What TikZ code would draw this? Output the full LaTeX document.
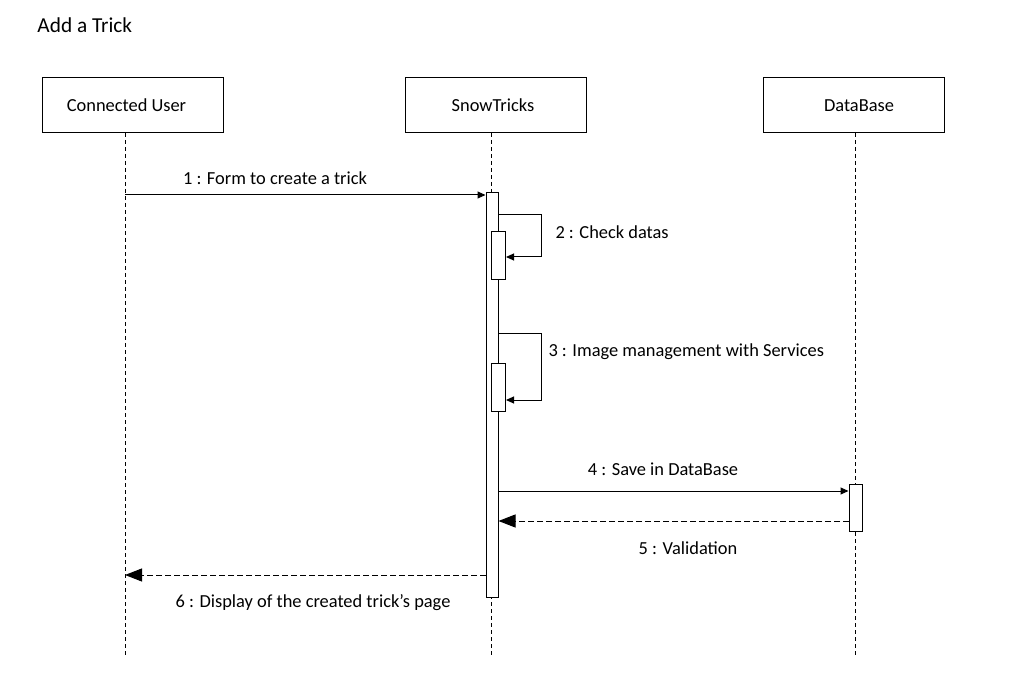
\documentclass[tikz,border=0pt]{standalone}
\usepackage{fontspec}
\setmainfont{Carlito}
\usetikzlibrary{arrows.meta}
\begin{document}
\begin{tikzpicture}[x=1pt,y=-1pt,line width=1pt,
  lbl/.style={font=\fontsize{18.4}{20}\selectfont,inner sep=0pt},
  headbox/.style={draw,fill=white,minimum width=181pt,minimum height=55pt,inner sep=0pt},
  actbox/.style={draw,fill=white,inner sep=0pt},
  lifeline/.style={dash pattern=on 4pt off 3pt},
  syncmsg/.style={-{Triangle[length=8pt,width=7pt]}},
  retmsg/.style={dash pattern=on 6pt off 3pt,-{Triangle[length=17pt,width=13pt]}}]
\useasboundingbox[fill=white] (0,0) rectangle (1021,687);
\node[anchor=west,inner sep=0pt,font=\fontsize{21.3}{24}\selectfont] (title) at (37,25) {Add a Trick};
% lifelines
\coordinate (l1top) at (125,133); \coordinate (l1bot) at (125,655);
\coordinate (l2top) at (491,133); \coordinate (l2bot) at (491,655);
\coordinate (l3top) at (855,133); \coordinate (l3bot) at (855,655);
\draw[lifeline] (l1top) -- (l1bot);
\draw[lifeline] (l2top) -- (l2bot);
\draw[lifeline] (l3top) -- (l3bot);
% heads
\node[headbox] (user) at (132.5,105.5) {};
\node[headbox] (snow) at (495.5,105.5) {};
\node[headbox] (db) at (853.5,105.5) {};
\node[lbl] (userlbl) at ([xshift=-6pt]user.center) {Connected User};
\node[lbl] (snowlbl) at ([xshift=-2.5pt]snow.center) {SnowTricks};
\node[lbl] (dblbl) at ([xshift=5.5pt]db.center) {DataBase};
% activations
\node[actbox,minimum width=12pt,minimum height=404pt] (act) at (492,395) {};
\node[actbox,minimum width=14pt,minimum height=48pt] (a2) at (498.5,256) {};
\node[actbox,minimum width=14pt,minimum height=48pt] (a3) at (498.5,387) {};
\node[actbox,minimum width=13pt,minimum height=47pt] (adb) at (855.5,507.5) {};
% message 1
\coordinate (m1s) at (125,195);
\draw[syncmsg] (m1s) -- (m1s -| act.west);
\node[lbl] (t1) at (275,178) {1 : Form to create a trick};
% message 2
\coordinate (m2s) at (498,215);
\draw[syncmsg] (m2s) -- ++(43.5,0) |- ([yshift=-1pt]a2.east);
\node[lbl,anchor=west] (t2) at (555,232) {2 : Check datas};
% message 3
\coordinate (m3s) at (498,334);
\draw[syncmsg] (m3s) -- ++(43.5,0) |- ([yshift=-13pt]a3.east);
\node[lbl,anchor=west] (t3) at (548,351.5) {3 : Image management with Services};
% message 4
\coordinate (m4s) at (498,491);
\draw[syncmsg] (m4s) -- (m4s -| adb.west);
\node[lbl] (t4) at (663,469) {4 : Save in DataBase};
% message 5
\coordinate (m5s) at (849,521);
\draw[retmsg] (m5s) -- (m5s -| act.east);
\node[lbl] (t5) at (688,548) {5 : Validation};
% message 6
\coordinate (m6s) at (486,575);
\draw[retmsg] (m6s) -- (125,575);
\node[lbl] (t6) at (313,603) {6 : Display of the created trick’s page};
\end{tikzpicture}
\end{document}
